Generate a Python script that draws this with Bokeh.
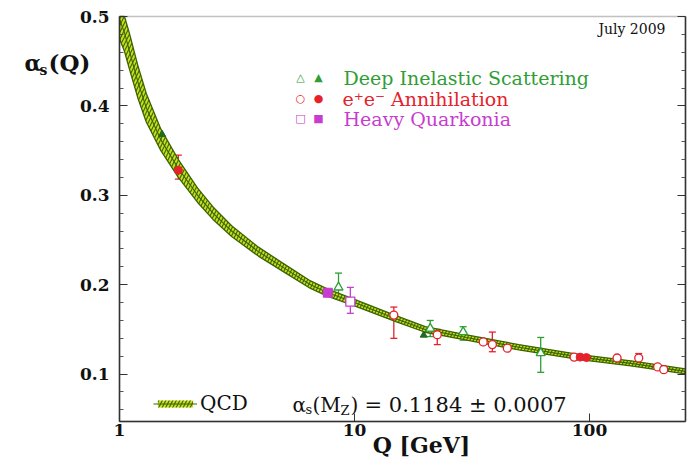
from bokeh.plotting import figure
from bokeh.models import (Range1d, LinearAxis, LogAxis, LogScale, FixedTicker, PrintfTickFormatter, Label,
                          Whisker, TeeHead, ColumnDataSource, Legend, LegendItem, BoxAnnotation)
from bokeh.embed import file_html
from bokeh.resources import INLINE

# ---------------- data ----------------
qcd_q = [1.0, 1.05, 1.1, 1.2, 1.3, 1.5, 1.78, 2.15, 2.5, 3.0, 3.9, 5.2, 6.5, 7.7,
         10.0, 15.0, 20.0, 30.0, 50.0, 91.2, 150.0, 256.0]
qcd_alpha = [0.497, 0.482, 0.462, 0.426, 0.398, 0.362, 0.330, 0.300, 0.280, 0.260, 0.237,
             0.216, 0.200, 0.191, 0.180, 0.162, 0.150, 0.141, 0.130, 0.119, 0.112, 0.103]
qcd_err = [0.022, 0.021, 0.020, 0.018, 0.016, 0.012, 0.010, 0.008, 0.007, 0.006, 0.005,
           0.0045, 0.0042, 0.004, 0.0037, 0.0034, 0.0032, 0.003, 0.003, 0.0029, 0.0028, 0.0028]

dis_open_q = [8.55, 21.0, 29.0, 62.0]
dis_open_a = [0.197, 0.151, 0.147, 0.1235]
dis_open_lo = [0.184, 0.142, 0.138, 0.102]
dis_open_hi = [0.213, 0.160, 0.153, 0.141]
dis_fill_q = [1.52, 19.7]
dis_fill_a = [0.368, 0.1436]

ee_open_q = [14.7, 22.5, 35.3, 38.6, 44.7, 86.0, 131.0, 162.0, 195.0, 207.0]
ee_open_a = [0.166, 0.144, 0.136, 0.133, 0.129, 0.119, 0.118, 0.118, 0.108, 0.105]
ee_err_q = [14.7, 22.5, 38.6, 162.0]
ee_err_lo = [0.140, 0.133, 0.125, 0.113]
ee_err_hi = [0.175, 0.150, 0.147, 0.123]
ee_fill_q = [1.78, 91.2, 97.0]
ee_fill_a = [0.328, 0.119, 0.1185]
ee_fill_err_q = [1.78]
ee_fill_err_lo = [0.318]
ee_fill_err_hi = [0.345]

hq_open_q = [9.6]
hq_open_a = [0.181]
hq_open_lo = [0.168]
hq_open_hi = [0.197]
hq_fill_q = [7.7]
hq_fill_a = [0.191]

x_ticks = [1, 10, 100]
y_ticks = [0.1, 0.2, 0.3, 0.4, 0.5]
y_minor = [0.06, 0.08, 0.12, 0.14, 0.16, 0.18, 0.22, 0.24, 0.26, 0.28,
           0.32, 0.34, 0.36, 0.38, 0.42, 0.44, 0.46, 0.48]
q_min, q_max = 1.0, 256.0
a_min, a_max = 0.047, 0.5

# ---------------- colours / layout ----------------
GREEN = "#2f9e35"
RED = "#e5222c"
MAG = "#c83cd0"
BAND = "#c8df1c"
BAND_DARK = "#3a6405"
AXC = "#333333"
SERIF = "DejaVu Serif"

W, H = 692, 469
BOX_L, BOX_T = 119, 16          # pixel position of the plot box corner (Q=1, alpha=0.5)
DEC = 235.0                      # pixels per decade in Q
PER_UNIT = 894.0                 # pixels per unit of alpha

x_start = 10 ** (-BOX_L / DEC)
x_end = 10 ** ((W - BOX_L) / DEC)
y_end = a_max + BOX_T / PER_UNIT
y_start = a_max - (H - BOX_T) / PER_UNIT

p = figure(width=W, height=H, x_axis_type=None, y_axis_type=None,
           x_range=Range1d(x_start, x_end), y_range=Range1d(y_start, y_end),
           output_backend="svg", toolbar_location=None,
           min_border=0, min_border_left=0, min_border_right=0, min_border_top=0, min_border_bottom=0,
           background_fill_color="white", border_fill_color="white")
p.x_scale = LogScale()
p.xgrid.grid_line_color = None
p.ygrid.grid_line_color = None
p.outline_line_color = None

def style_axis(ax, labels=True):
    ax.axis_line_color = AXC
    ax.axis_line_width = 1.5
    ax.major_tick_in = 8
    ax.major_tick_out = 0
    ax.minor_tick_in = 4
    ax.minor_tick_out = 0
    ax.major_tick_line_color = AXC
    ax.minor_tick_line_color = "#555555"
    ax.major_label_text_font = SERIF
    ax.major_label_text_font_style = "bold"
    ax.major_label_text_font_size = "17px"
    ax.major_label_text_color = "#111111" if labels else None

xax = LogAxis(ticker=FixedTicker(ticks=x_ticks, minor_ticks=[]),
              formatter=PrintfTickFormatter(format="%d"),
              fixed_location=a_min, bounds=(q_min, q_max))
style_axis(xax)
xax.major_label_standoff = 3
p.add_layout(xax, "below")

yax = LinearAxis(ticker=FixedTicker(ticks=y_ticks, minor_ticks=y_minor),
                 fixed_location=q_min, bounds=(a_min, a_max))
style_axis(yax)
yax.major_label_standoff = 10
p.add_layout(yax, "left")

rax = LinearAxis(ticker=FixedTicker(ticks=y_ticks, minor_ticks=y_minor),
                 fixed_location=q_max, bounds=(a_min, a_max))
style_axis(rax, labels=False)
p.add_layout(rax, "right")

# plot box
p.add_layout(BoxAnnotation(left=q_min, right=q_max, bottom=a_min, top=a_max,
                           fill_color=None, line_color=AXC, line_width=1.5))

# QCD band (clipped to the box top)
band_src = ColumnDataSource(dict(
    q=qcd_q,
    a=qcd_alpha,
    lo=[a - e for a, e in zip(qcd_alpha, qcd_err)],
    hi=[min(a + e, a_max) for a, e in zip(qcd_alpha, qcd_err)],
))
band = p.varea(x="q", y1="lo", y2="hi", source=band_src, fill_color=BAND,
               hatch_pattern="/", hatch_color=BAND_DARK, hatch_scale=7, hatch_weight=1.1)
p.line(x="q", y="lo", source=band_src, line_color=BAND_DARK, line_width=1.3)
p.line(x="q", y="hi", source=band_src, line_color=BAND_DARK, line_width=1.3)
mid = p.line(x="q", y="a", source=band_src, line_color=BAND_DARK, line_width=1.1)

# error bars
def whisk(qs, lo, hi, color):
    src = ColumnDataSource(dict(q=qs, lo=lo, hi=hi))
    p.add_layout(Whisker(base="q", lower="lo", upper="hi", source=src, line_color=color, line_width=1.3,
                         upper_head=TeeHead(size=7, line_color=color, line_width=1.3),
                         lower_head=TeeHead(size=7, line_color=color, line_width=1.3)))

whisk(dis_open_q, dis_open_lo, dis_open_hi, GREEN)
whisk(ee_err_q, ee_err_lo, ee_err_hi, RED)
whisk(ee_fill_err_q, ee_fill_err_lo, ee_fill_err_hi, RED)
whisk(hq_open_q, hq_open_lo, hq_open_hi, MAG)

# points
p.scatter(dis_open_q, dis_open_a, marker="triangle", size=9, line_color=GREEN, fill_color="white", line_width=1.3)
p.scatter(dis_fill_q, dis_fill_a, marker="triangle", size=7, line_color="#1f6a22", fill_color="#1f6a22")
p.scatter(ee_open_q, ee_open_a, marker="circle", size=8, line_color=RED, fill_color="white", line_width=1.3)
p.scatter(ee_fill_q, ee_fill_a, marker="circle", size=8, line_color=RED, fill_color=RED)
p.scatter(hq_open_q, hq_open_a, marker="square", size=9, line_color=MAG, fill_color="white", line_width=1.3)
p.scatter(hq_fill_q, hq_fill_a, marker="square", size=9, line_color=MAG, fill_color=MAG)

# text helper (pixel positions in the picture)
def txt(text, px, py, size, color="#111111", bold=False, align="left", font=SERIF):
    p.add_layout(Label(x=px, y=H - py, x_units="screen", y_units="screen",
                       text=text, text_font=font, text_font_size=f"{size}px",
                       text_color=color, text_align=align, text_baseline="middle",
                       text_font_style="bold" if bold else "normal"))

# y axis label alpha_s(Q)
txt("α", 24, 62, 22, bold=True)
txt("s", 39, 69, 14, bold=True)
txt("(Q)", 48, 62, 23, bold=True)
# x axis label
txt("Q [GeV]", 421, 444, 22, bold=True, align="center")
# date
txt("July 2009", 665, 28, 14, align="right")

# top legend
SYM = "DejaVu Sans"
txt("△", 300, 77, 11, GREEN, font=SYM, align="center")
txt("▲", 318, 77, 11, GREEN, font=SYM, align="center")
txt("Deep Inelastic Scattering", 343, 77, 19, GREEN)
txt("○", 300, 98, 11, RED, font=SYM, align="center")
txt("●", 318, 98, 11, RED, font=SYM, align="center")
txt("e⁺e⁻ Annihilation", 342, 98, 19, RED)
txt("□", 300, 118, 11, MAG, font=SYM, align="center")
txt("■", 318, 118, 11, MAG, font=SYM, align="center")
txt("Heavy Quarkonia", 343, 118, 19, MAG)

# bottom annotation alpha_s(M_Z)
txt("α", 292, 404, 20)
txt("s", 305, 409, 13)
txt("(M", 312, 404, 20)
txt("Z", 340, 410, 13)
txt(")", 350, 404, 20)
txt("= 0.1184 ± 0.0007", 364, 404, 21)

legend = Legend(items=[LegendItem(label="QCD", renderers=[band, mid])],
                location=(153, 54), orientation="vertical")
legend.background_fill_alpha = 0
legend.border_line_color = None
legend.glyph_width = 44
legend.glyph_height = 9
legend.label_text_font = SERIF
legend.label_text_font_size = "20px"
legend.label_text_color = "#111111"
legend.label_standoff = 3
legend.padding = 0
legend.margin = 0
legend.spacing = 0
p.add_layout(legend)

open("out.html", "w").write(file_html(p, INLINE))
